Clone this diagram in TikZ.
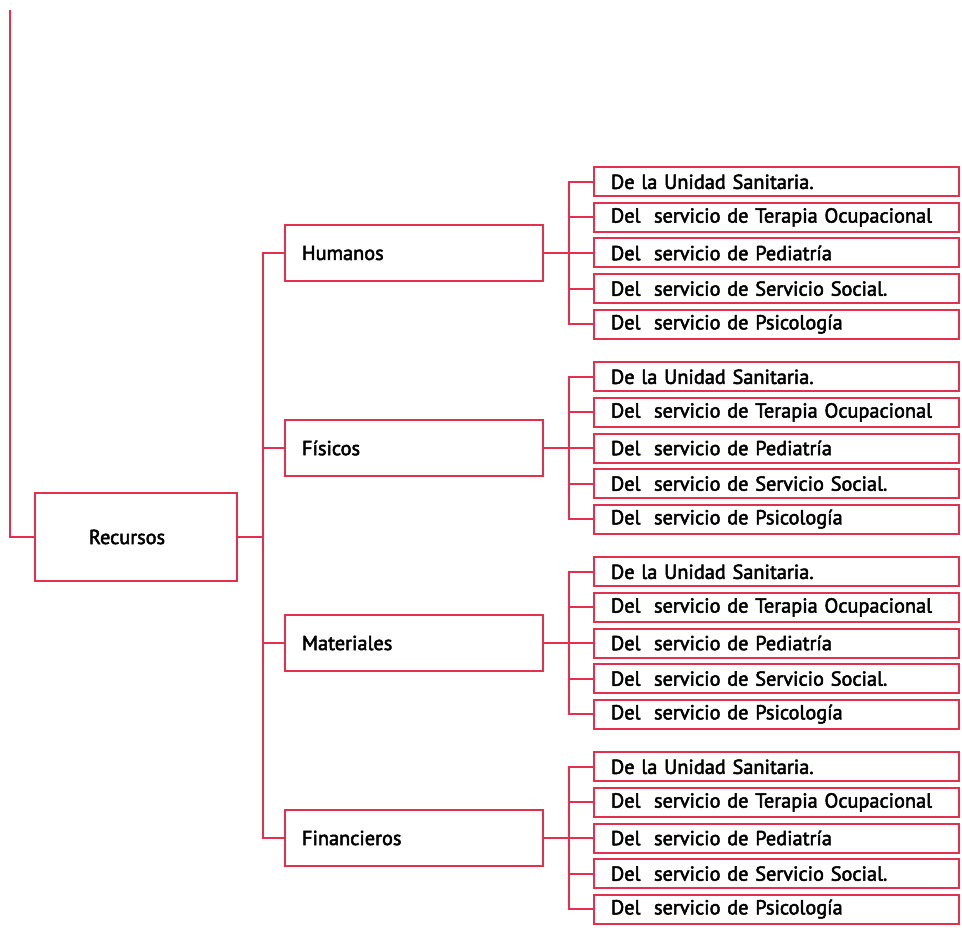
\documentclass[tikz,border=0pt]{standalone}
\usepackage{fontspec}
\setmainfont{PT Sans}[FakeBold=2.5]
\usepackage{xcolor}
\usetikzlibrary{positioning}
\definecolor{LinkRed}{HTML}{E4304E}

\begin{document}
\begin{tikzpicture}[x=1pt,y=-1pt,
  root/.style={rectangle,draw=LinkRed,line width=2pt,
               minimum width=202pt,minimum height=88pt,
               font=\fontsize{20.3}{22}\selectfont},
  grp/.style={rectangle,draw=LinkRed,line width=2pt,text width=224pt,
              inner xsep=17pt,inner ysep=0pt,align=left,minimum height=56pt,
              font=\fontsize{20.3}{22}\selectfont},
  leaf/.style={rectangle,draw=LinkRed,line width=2pt,text width=331pt,
               inner xsep=17pt,inner ysep=0pt,align=left,minimum height=29pt,
               font=\fontsize{20.3}{22}\selectfont},
  link/.style={LinkRed,line width=2pt}]
\useasboundingbox (0,0) rectangle (962,928);
\coordinate (top) at (10,10);
\node[root] (rec) at (136,537) {Recursos\hspace*{18pt}};
\node[grp] (g1) at (414,253) {Humanos};
\node[grp,below=137pt of g1] (g2) {Físicos};
\node[grp,below=137pt of g2] (g3) {Materiales};
\node[grp,below=137pt of g3] (g4) {Financieros};
\draw[link] (top) |- (rec.west);
\foreach \g in {1,...,4}{
  \node[leaf,right=49pt of g\g] (l\g-3) {Del~~servicio de Pediatría};
  \node[leaf,above=4.6pt of l\g-3] (l\g-2) {Del~~servicio de Terapia Ocupacional};
  \node[leaf,above=4.6pt of l\g-2] (l\g-1) {De la Unidad Sanitaria.};
  \node[leaf,below=4.6pt of l\g-3] (l\g-4) {Del~~servicio de Servicio Social.};
  \node[leaf,below=4.6pt of l\g-4] (l\g-5) {Del~~servicio de Psicología};
  \draw[link] (rec.east) -- ++(25,0) |- (g\g.west);
  \foreach \k in {1,...,5}
    \draw[link] (g\g.east) -- ++(25,0) |- (l\g-\k.west);
}
\end{tikzpicture}
\end{document}
